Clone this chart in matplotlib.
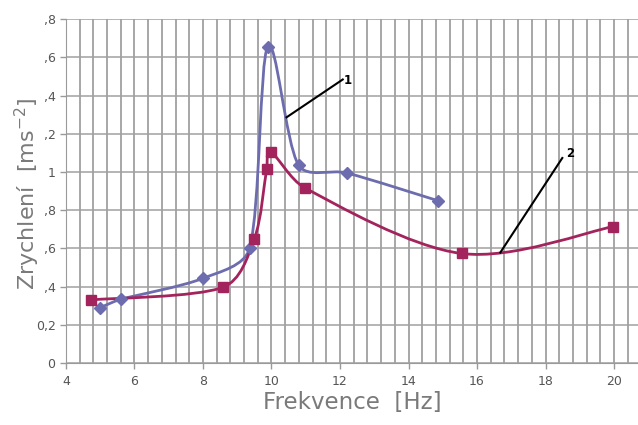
import numpy as np
import matplotlib
matplotlib.use("Agg")
import matplotlib.pyplot as plt
from matplotlib.path import Path
from matplotlib.patches import PathPatch

# series 1 (blue diamonds)
freq_1 = [5.0, 5.6, 8.0, 9.36, 9.89, 10.79, 12.19, 14.85]
acc_1 = [0.29, 0.333, 0.443, 0.60, 1.656, 1.036, 0.995, 0.85]

# series 2 (red squares)
freq_2 = [4.73, 8.58, 9.5, 9.86, 9.98, 10.97, 15.55, 19.98]
acc_2 = [0.33, 0.396, 0.65, 1.015, 1.105, 0.917, 0.573, 0.714]

x_ticks = [4, 6, 8, 10, 12, 14, 16, 18, 20]
y_ticks = [0, 0.2, 0.4, 0.6, 0.8, 1.0, 1.2, 1.4, 1.6, 1.8]
# labels are cropped on the left in the original picture
y_tick_labels = ["0", "0,2", ",4", ",6", ",8", "1", ",2", ",4", ",6", ",8"]

BLUE = "#6c6cae"
RED = "#a3245c"
GRID = "#909090"
TEXT = "#7a7a7a"


def smooth_path(ax, xs, ys):
    """Excel-like smoothed line (Catmull-Rom, tangents limited to avoid
    overshoot), built in screen space and mapped back to data."""
    pts = ax.transData.transform(np.column_stack([xs, ys]))
    n = len(pts)
    tang = [(pts[min(i + 1, n - 1)] - pts[max(i - 1, 0)]) / 6.0
            for i in range(n)]

    def limit(t, seg):
        size = np.hypot(*t)
        return t if size <= seg else t * seg / size

    verts = [pts[0]]
    codes = [Path.MOVETO]
    for i in range(n - 1):
        seg = np.hypot(*(pts[i + 1] - pts[i])) / 3.0
        verts += [pts[i] + limit(tang[i], seg),
                  pts[i + 1] - limit(tang[i + 1], seg),
                  pts[i + 1]]
        codes += [Path.CURVE4] * 3
    verts = ax.transData.inverted().transform(np.array(verts))
    return Path(verts, codes)


fig = plt.figure(figsize=(6.38, 4.25), dpi=100)
ax = fig.add_axes([0.1034, 0.146, 0.8966, 0.809])

ax.set_xlim(4, 20.7)
ax.set_ylim(0, 1.8)

# grid: vertical every 0.4 Hz, horizontal every 0.2
for gx in np.arange(4.0, 20.75, 0.4):
    ax.axvline(gx, color=GRID, lw=1.1, zorder=0)
for gy in y_ticks:
    ax.axhline(gy, color="#a0a0a0", lw=1.1, zorder=0)

for xs, ys, col, mk, ms in [(freq_1, acc_1, BLUE, "D", 6),
                            (freq_2, acc_2, RED, "s", 7.5)]:
    ax.add_patch(PathPatch(smooth_path(ax, xs, ys), fill=False,
                           edgecolor=col, lw=2, zorder=3))
    ax.plot(xs, ys, linestyle="none", marker=mk, ms=ms,
            color=col, zorder=4)

# callouts
ax.plot([10.44, 12.08], [1.286, 1.484], color="black", lw=1.5, zorder=5)
ax.text(12.24, 1.479, "1", fontsize=8.5, fontweight="bold", va="center",
        ha="center", zorder=5)
ax.plot([16.68, 18.49], [0.578, 1.073], color="black", lw=1.5, zorder=5)
ax.text(18.72, 1.094, "2", fontsize=8.5, fontweight="bold", va="center",
        ha="center", zorder=5)

ax.set_xticks(x_ticks)
ax.set_yticks(y_ticks)
ax.set_yticklabels(y_tick_labels)
ax.tick_params(axis="both", colors="#9a9a9a", labelcolor="#555555",
               labelsize=9, length=4, width=1)
ax.tick_params(axis="x", pad=5)

for side in ["top", "right"]:
    ax.spines[side].set_visible(False)
ax.spines["left"].set_color("#9a9a9a")
ax.spines["bottom"].set_color("#9a9a9a")

ax.set_xlabel("Frekvence  [Hz]", fontsize=16.5, color=TEXT, labelpad=2)
fig.text(27 / 638, 1 - 194 / 425, "Zrychlení  [ms$^{-2}$]", fontsize=16,
         color=TEXT, rotation=90, ha="center", va="center")

fig.savefig("out.png", dpi=100, facecolor="white")
